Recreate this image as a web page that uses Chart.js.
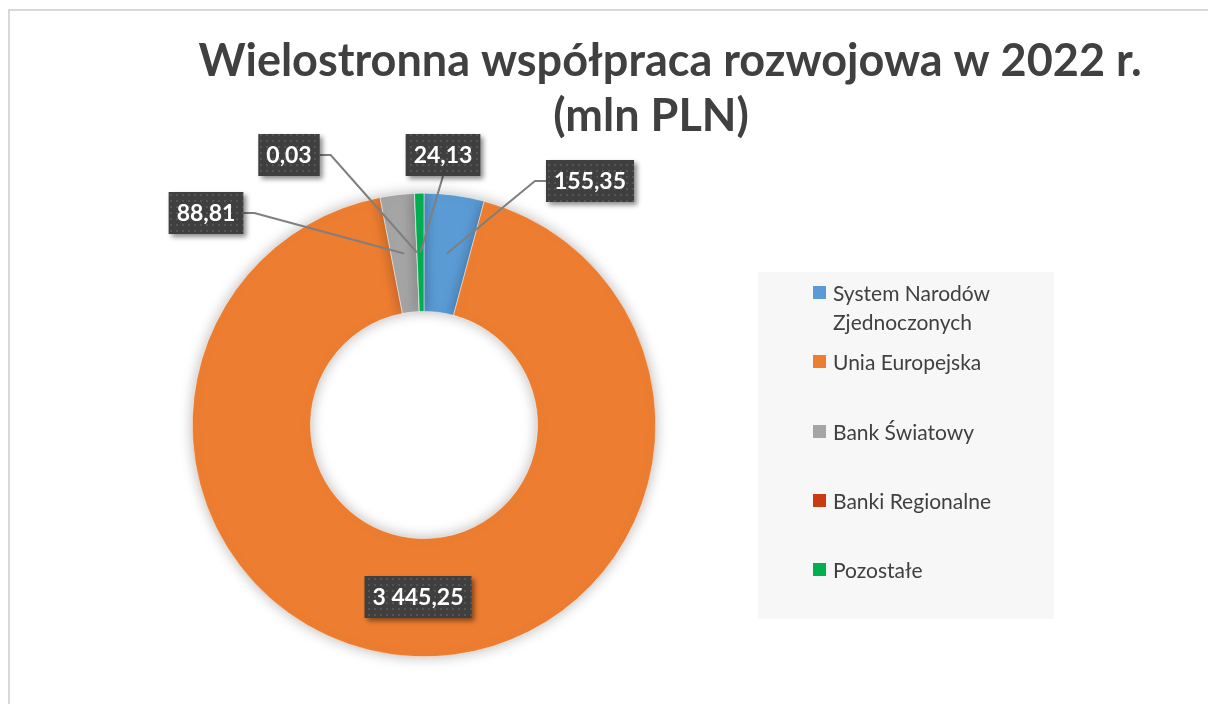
<!DOCTYPE html>
<html lang="pl">
<head>
<meta charset="utf-8">
<title>Wielostronna współpraca rozwojowa w 2022 r.</title>
<script src="https://cdn.jsdelivr.net/npm/chart.js@4.4.1/dist/chart.umd.min.js"></script>
<style>
  html, body { margin: 0; padding: 0; background: #fff; }
  #wrap { position: relative; width: 1208px; height: 704px; }
</style>
</head>
<body>
<div id="wrap"><canvas id="chart" width="1208" height="704"></canvas></div>
<script>
// dane
const categories = ['System Narodów Zjednoczonych', 'Unia Europejska', 'Bank Światowy', 'Banki Regionalne', 'Pozostałe'];
const legendLines = [['System Narodów', 'Zjednoczonych'], ['Unia Europejska'], ['Bank Światowy'], ['Banki Regionalne'], ['Pozostałe']];
const values = [155.35, 3445.25, 88.81, 0.03, 24.13];
const valueLabels = ['155,35', '3 445,25', '88,81', '0,03', '24,13'];
const colors = ['#5B9BD5', '#ED7D31', '#A5A5A5', '#C83C14', '#00B050'];
const titleLines = ['Wielostronna współpraca rozwojowa w 2022 r.', '(mln PLN)'];

const FONT = 'Lato, "Open Sans", sans-serif';
const TEXT = '#404040';

// label box placement, offsets of box centre from doughnut centre
const labelPos = [
  { dx: 166, dy: -244, elbow: 'left' },
  { dx: -6, dy: 172, elbow: null },
  { dx: -218, dy: -212, elbow: 'right' },
  { dx: -135, dy: -270, elbow: 'right' },
  { dx: 19, dy: -270, elbow: 'bottom' }
];

function makePattern(ctx) {
  const c = document.createElement('canvas');
  c.width = 6; c.height = 6;
  const p = c.getContext('2d');
  p.fillStyle = '#3f3f3f';
  p.fillRect(0, 0, 6, 6);
  p.fillStyle = '#555555';
  p.fillRect(2, 2, 2, 2);
  return ctx.createPattern(c, 'repeat');
}

const framePlugin = {
  id: 'frame',
  beforeDraw(chart) {
    const ctx = chart.ctx;
    ctx.save();
    ctx.fillStyle = '#fff';
    ctx.fillRect(0, 0, chart.width, chart.height);
    ctx.strokeStyle = '#d9d9d9';
    ctx.lineWidth = 2;
    ctx.strokeRect(9, 10, chart.width + 20, chart.height + 20);
    // title
    ctx.fillStyle = TEXT;
    ctx.textAlign = 'center';
    ctx.textBaseline = 'alphabetic';
    ctx.font = 'bold 45px ' + FONT;
    ctx.fillText(titleLines[0], 670, 76);
    ctx.fillText(titleLines[1], 651, 131);
    // legend box
    ctx.fillStyle = '#f7f7f7';
    ctx.fillRect(758, 272, 296, 347);
    const rows = [293, 362, 432, 501, 570];
    ctx.font = '21px ' + FONT;
    ctx.textAlign = 'left';
    ctx.textBaseline = 'middle';
    categories.forEach((c, i) => {
      ctx.fillStyle = colors[i];
      ctx.fillRect(813, rows[i] - 7, 13, 13);
      ctx.fillStyle = TEXT;
      legendLines[i].forEach((t, j) => ctx.fillText(t, 833, rows[i] + 1 + j * 29));
    });
    ctx.restore();
  },
  beforeDatasetsDraw(chart) {
    const ctx = chart.ctx;
    ctx.save();
    ctx.shadowColor = 'rgba(0,0,0,0.28)';
    ctx.shadowBlur = 14;
    ctx.shadowOffsetX = 0;
    ctx.shadowOffsetY = 0;
  },
  afterDatasetsDraw(chart) {
    chart.ctx.restore();
  }
};

const labelPlugin = {
  id: 'boxLabels',
  afterDraw(chart) {
    const ctx = chart.ctx;
    const meta = chart.getDatasetMeta(0);
    const first = meta.data[0];
    const cx = first.x, cy = first.y;
    const pattern = makePattern(ctx);
    ctx.save();
    ctx.font = 'bold 23px ' + FONT;
    meta.data.forEach((arc, i) => {
      const pos = labelPos[i];
      const a = arc.tooltipPosition();
      const text = valueLabels[i];
      const w = ctx.measureText(text).width + 16;
      const h = 42;
      const bx = cx + pos.dx - w / 2;
      const by = cy + pos.dy - h / 2;
      // leader line
      if (pos.elbow) {
        ctx.strokeStyle = '#7f7f7f';
        ctx.lineWidth = 2;
        ctx.beginPath();
        ctx.moveTo(a.x, a.y);
        if (pos.elbow === 'left') {
          ctx.lineTo(bx - 11, by + h / 2);
          ctx.lineTo(bx, by + h / 2);
        } else if (pos.elbow === 'right') {
          ctx.lineTo(bx + w + 11, by + h / 2);
          ctx.lineTo(bx + w, by + h / 2);
        } else {
          ctx.lineTo(bx + w / 2, by + h);
        }
        ctx.stroke();
      }
      // box
      ctx.save();
      ctx.shadowColor = 'rgba(0,0,0,0.45)';
      ctx.shadowBlur = 5;
      ctx.shadowOffsetX = 3;
      ctx.shadowOffsetY = 3;
      ctx.fillStyle = pattern;
      ctx.fillRect(bx, by, w, h);
      ctx.restore();
      ctx.fillStyle = '#ffffff';
      ctx.textAlign = 'center';
      ctx.textBaseline = 'middle';
      ctx.fillText(text, bx + w / 2, by + h / 2 + 1);
    });
    ctx.restore();
  }
};

new Chart(document.getElementById('chart'), {
  type: 'doughnut',
  data: {
    labels: categories,
    datasets: [{
      data: values,
      backgroundColor: colors,
      borderColor: '#ffffff',
      borderWidth: 0.5
    }]
  },
  options: {
    responsive: false,
    animation: false,
    cutout: '49%',
    layout: { padding: { left: 192, right: 552, top: 193, bottom: 47 } },
    plugins: {
      legend: { display: false },
      tooltip: { enabled: false },
      title: { display: false }
    }
  },
  plugins: [framePlugin, labelPlugin]
});
</script>
</body>
</html>
